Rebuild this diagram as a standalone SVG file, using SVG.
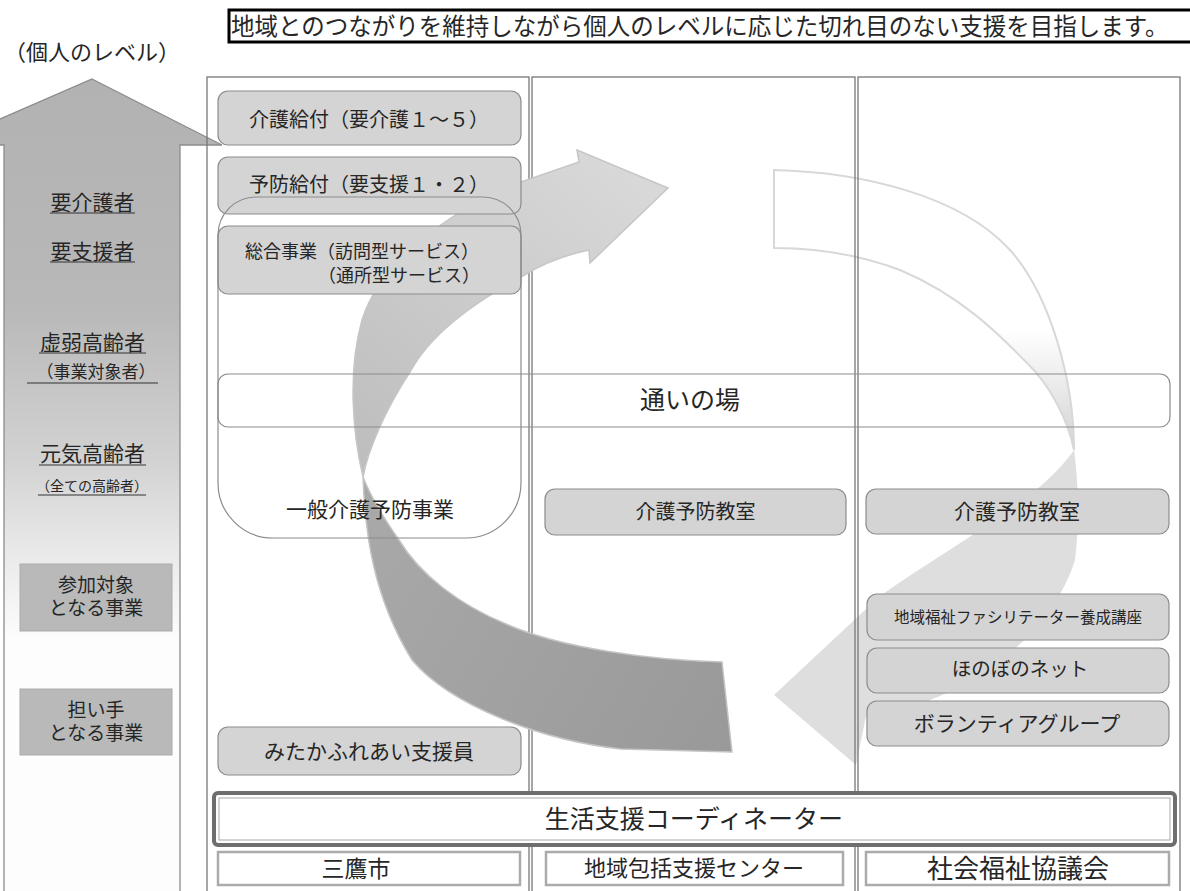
<svg xmlns="http://www.w3.org/2000/svg" width="1190" height="891" viewBox="0 0 1190 891">
<defs>
<style>
text{font-family:"Noto Sans CJK JP","Noto Sans",sans-serif;fill:#262626;}
.c{text-anchor:middle}
.box{fill:#d4d4d4;stroke:#8c8c8c;stroke-width:1.2}
.ol{fill:none;stroke:#8c8c8c;stroke-width:1.2}
.col{fill:none;stroke:#777;stroke-width:1.3}
.ul{stroke:#333;stroke-width:1.2}
.lbl{fill:#b9b9b9;stroke:#ababab;stroke-width:1}
.org{fill:#fff;stroke:#ababab;stroke-width:2.5}
</style>
<linearGradient id="lvl" x1="0" y1="79" x2="0" y2="640" gradientUnits="userSpaceOnUse">
<stop offset="0" stop-color="#b2b2b2"/>
<stop offset="0.4" stop-color="#b8b8b8"/>
<stop offset="0.68" stop-color="#d2d2d2"/>
<stop offset="0.82" stop-color="#e6e6e6"/>
<stop offset="1" stop-color="#fdfdfd"/>
</linearGradient>
<linearGradient id="darkFront" x1="370" y1="480" x2="620" y2="170" gradientUnits="userSpaceOnUse">
<stop offset="0" stop-color="#bdbdbd"/>
<stop offset="1" stop-color="#d8d8d8"/>
</linearGradient>
<linearGradient id="darkBack" x1="365" y1="480" x2="730" y2="700" gradientUnits="userSpaceOnUse">
<stop offset="0" stop-color="#a9a9a9"/>
<stop offset="1" stop-color="#9a9a9a"/>
</linearGradient>
<linearGradient id="lightFront" x1="0" y1="330" x2="0" y2="452" gradientUnits="userSpaceOnUse">
<stop offset="0" stop-color="#ffffff"/>
<stop offset="1" stop-color="#d2d2d2"/>
</linearGradient>
</defs>

<!-- level arrow -->
<g id="level-arrow">
<path d="M92,79 L222,145 L180,145 L180,900 L4,900 L4,145 L-60,145 Z" fill="url(#lvl)" stroke="#8c8c8c" stroke-width="1.3"/>
<text x="92" y="60" class="c" font-size="22">（個人のレベル）</text>
</g>

<g id="level-labels">
<text x="92.5" y="210" class="c" font-size="21">要介護者</text>
<line x1="50" y1="213" x2="135" y2="213" class="ul"/>
<text x="92.5" y="259" class="c" font-size="21">要支援者</text>
<line x1="50" y1="262" x2="135" y2="262" class="ul"/>
<text x="92.5" y="349.5" class="c" font-size="21">虚弱高齢者</text>
<line x1="39" y1="353" x2="146" y2="353" class="ul"/>
<text x="96" y="377.5" class="c" font-size="17">（事業対象者）</text>
<line x1="27" y1="383" x2="158" y2="383" class="ul"/>
<text x="92.5" y="461" class="c" font-size="21">元気高齢者</text>
<line x1="39" y1="465" x2="146" y2="465" class="ul"/>
<text x="92" y="490.7" class="c" font-size="14">（全ての高齢者）</text>
<line x1="38" y1="495" x2="146" y2="495" class="ul"/>
</g>

<g id="label-sanka">
<rect x="20" y="564" width="152" height="67" class="lbl"/>
<text class="c" font-size="19"><tspan x="96" y="591.5">参加対象</tspan><tspan x="96" y="614.5">となる事業</tspan></text>
</g>
<g id="label-ninaite">
<rect x="20" y="689" width="152" height="66" class="lbl"/>
<text class="c" font-size="19"><tspan x="96" y="716.5">担い手</tspan><tspan x="96" y="739.5">となる事業</tspan></text>
</g>

<g id="title">
<rect x="229" y="10" width="1000" height="32" fill="#fff" stroke="#000" stroke-width="3"/>
<text x="231" y="34.7" font-size="23.5" fill="#222">地域とのつながりを維持しながら個人のレベルに応じた切れ目のない支援を目指します。</text>
</g>

<!-- connectors: cycle arrows -->
<g id="connectors">
<g id="light-arrow">
<path d="M1074,450 C1040,500 960,540 880,596 L774,695 L856,765 L866,716 C960,705 1050,640 1075,560 C1080,520 1078,480 1074,450 Z" fill="#dedede"/>
<path d="M774,170 C860,172 960,195 1010,250 C1050,295 1074,380 1074,450 C1068,420 1050,385 1027,363 C1000,335 960,295 900,270 C860,255 820,248 774,248 Z" fill="url(#lightFront)" stroke="#d8d8d8" stroke-width="2"/>
</g>
</g>

<!-- columns -->
<g id="columns">
<rect x="207" y="77" width="322" height="830" class="col"/>
<rect x="532" y="77" width="323" height="830" class="col"/>
<rect x="858" y="77" width="322" height="830" class="col"/>
</g>

<g id="connectors-dark">
<path d="M363,477 C365,530 372,595 412,660 C450,705 540,740 621,749 L732,752 L722,662 C650,660 560,648 506,624 C460,605 420,575 399,540 C385,520 370,495 363,477 Z" fill="url(#darkBack)" stroke="#c4c4c4" stroke-width="1.5"/>
<path d="M363,477 C352,430 348,370 362,320 C380,262 450,210 521,182 L579,162 L577,150 L668,188 L590,263 L589,250 C560,256 540,265 521,277 C470,305 430,335 410,372 C385,410 368,450 363,477 Z" fill="url(#darkFront)" stroke="#c6c6c6" stroke-width="1.5"/>
</g>

<g id="node-kaigo-kyufu">
<rect x="218" y="91" width="303" height="54" rx="10" class="box"/>
<text x="369" y="127.4" class="c" font-size="20">介護給付（要介護１～５）</text>
</g>
<g id="node-yobo-kyufu">
<rect x="218" y="157" width="303" height="57" rx="10" class="box"/>
<text x="369" y="192.4" class="c" font-size="20">予防給付（要支援１・２）</text>
</g>
<g id="node-sogo">
<rect x="218" y="226" width="303" height="68" rx="10" class="box"/>
<text font-size="18"><tspan x="245" y="258">総合事業（訪問型サービス）</tspan><tspan x="480" y="282" text-anchor="end">（通所型サービス）</tspan></text>
</g>
<g id="node-ippan">
<path d="M218,235 A38,38 0 0 1 256,197 L483,197 A38,38 0 0 1 521,235 L521,483 A55,55 0 0 1 466,538 L273,538 A55,55 0 0 1 218,483 Z" class="ol"/>
<text x="370" y="517" class="c" font-size="21">一般介護予防事業</text>
</g>
<g id="node-kayoi">
<rect x="218" y="374" width="952" height="53" rx="10" class="ol"/>
<text x="690" y="409" class="c" font-size="25">通いの場</text>
</g>
<g id="node-kyoshitsu-2">
<rect x="545" y="489" width="301" height="46" rx="10" class="box"/>
<text x="695.5" y="519.4" class="c" font-size="20">介護予防教室</text>
</g>
<g id="node-kyoshitsu-3">
<rect x="866" y="489" width="303" height="45" rx="10" class="box"/>
<text x="1017" y="519" class="c" font-size="21">介護予防教室</text>
</g>
<g id="node-facilitator">
<rect x="867" y="594" width="302" height="46" rx="10" class="box"/>
<text x="1018" y="623" class="c" font-size="15.5">地域福祉ファシリテーター養成講座</text>
</g>
<g id="node-honobono">
<rect x="867" y="648" width="302" height="45" rx="10" class="box"/>
<text x="1020" y="676" class="c" font-size="19.5">ほのぼのネット</text>
</g>
<g id="node-volunteer">
<rect x="867" y="701" width="302" height="45" rx="10" class="box"/>
<text x="1017" y="731" class="c" font-size="21">ボランティアグループ</text>
</g>
<g id="node-mitaka-fureai">
<rect x="218" y="727" width="303" height="48" rx="10" class="box"/>
<text x="369" y="759" class="c" font-size="21">みたかふれあい支援員</text>
</g>

<g id="node-coordinator">
<rect x="214" y="793" width="961" height="52" rx="4" fill="#fff" stroke="#6e6e6e" stroke-width="4"/>
<rect x="219" y="798" width="951" height="42" fill="none" stroke="#a8a8a8" stroke-width="1"/>
<text x="694" y="828" class="c" font-size="25">生活支援コーディネーター</text>
</g>
<g id="node-mitaka-city">
<rect x="218" y="852" width="302" height="33" class="org"/>
<text x="356" y="876.5" class="c" font-size="23">三鷹市</text>
</g>
<g id="node-houkatsu">
<rect x="546" y="852" width="297" height="33" class="org"/>
<text x="694" y="876" class="c" font-size="22">地域包括支援センター</text>
</g>
<g id="node-shakyo">
<rect x="866" y="852" width="303" height="33" class="org"/>
<text x="1018" y="878" class="c" font-size="26">社会福祉協議会</text>
</g>
</svg>
